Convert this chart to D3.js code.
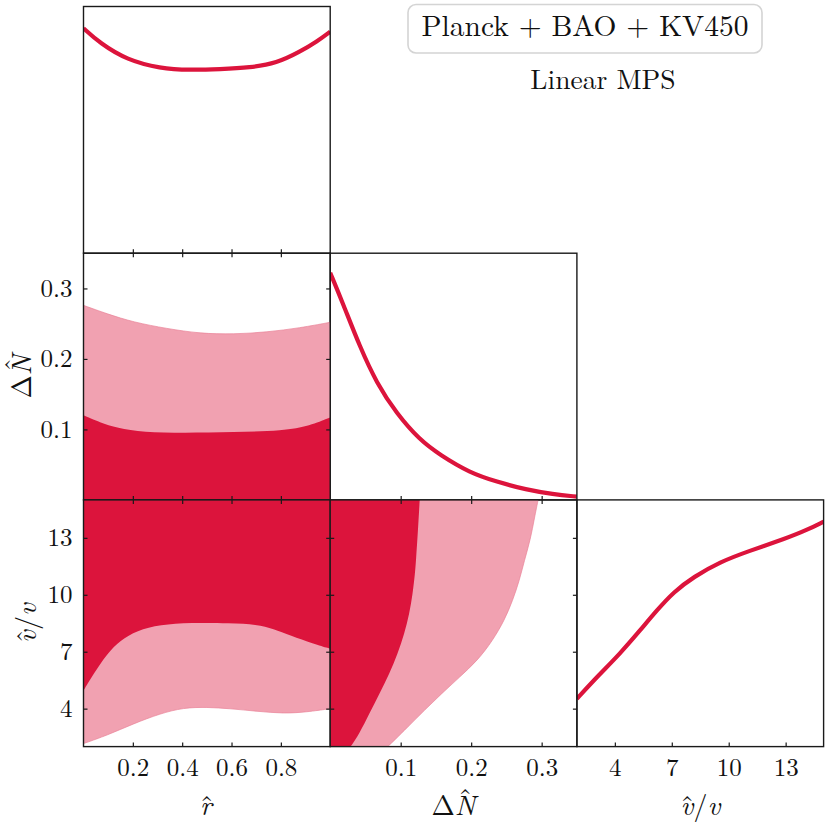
<!DOCTYPE html>
<html>
<head>
<meta charset="utf-8">
<script src="https://cdn.jsdelivr.net/npm/d3@7"></script>
<style>
  body { margin: 0; background: #fff; }
</style>
</head>
<body>
<script>
// 1D marginals (normalised densities)
const rGrid = [0, 0.067, 0.177, 0.31, 0.432, 0.553, 0.675, 0.783, 0.878, 0.945, 1.0]
const rDensity = [0.912, 0.851, 0.783, 0.749, 0.742, 0.746, 0.752, 0.770, 0.817, 0.857, 0.898]

const dnGrid = [0, 0.018, 0.042, 0.066, 0.094, 0.127, 0.156, 0.198, 0.236, 0.278, 0.316, 0.35]
const dnDensity = [0.921, 0.797, 0.621, 0.473, 0.351, 0.243, 0.182, 0.110, 0.074, 0.041, 0.023, 0.013]

const vGrid = [2.0, 3.05, 4.28, 5.34, 6.22, 7.10, 8.15, 9.56, 10.96, 13.07, 14.12, 15.0]
const vDensity = [0.194, 0.282, 0.377, 0.472, 0.553, 0.627, 0.688, 0.749, 0.790, 0.845, 0.878, 0.912]

// 2D contours: r vs dN (upper edges of the 68% / 95% regions)
const rDn68_r = [0, 0.067, 0.135, 0.243, 0.405, 0.608, 0.81, 0.918, 1.0]
const rDn68_dn = [0.120, 0.110, 0.102, 0.096, 0.095, 0.096, 0.098, 0.105, 0.117]
const rDn95_r = [0, 0.095, 0.203, 0.338, 0.473, 0.608, 0.743, 0.878, 1.0]
const rDn95_dn = [0.276, 0.264, 0.252, 0.243, 0.236, 0.235, 0.238, 0.244, 0.252]

// r vs v (lower edges)
const rV68_r = [0, 0.041, 0.095, 0.149, 0.216, 0.311, 0.432, 0.595, 0.703, 0.77, 0.838, 0.932, 1.0]
const rV68_v = [4.96, 5.84, 6.89, 7.59, 8.12, 8.42, 8.53, 8.51, 8.44, 8.21, 7.86, 7.42, 7.16]
const rV95_r = [0, 0.095, 0.203, 0.311, 0.405, 0.5, 0.595, 0.703, 0.811, 0.905, 1.0]
const rV95_v = [2.16, 2.59, 3.21, 3.74, 4.05, 4.08, 4.0, 3.86, 3.74, 3.82, 4.0]

// dN vs v (right edges)
const dnV68_v = [15.0, 13.38, 11.81, 11.11, 10.05, 9.0, 7.95, 6.89, 5.84, 4.79, 3.74, 2.68, 2.0]
const dnV68_dn = [0.127, 0.1245, 0.1217, 0.1203, 0.117, 0.1123, 0.1052, 0.0957, 0.084, 0.0698, 0.0556, 0.0414, 0.029]
const dnV95_v = [15.0, 14.1, 12.9, 11.81, 10.75, 9.70, 8.65, 7.59, 6.54, 5.66, 4.79, 3.91, 3.03, 2.33, 2.0]
const dnV95_dn = [0.295, 0.290, 0.284, 0.2755, 0.2684, 0.2589, 0.2471, 0.2305, 0.2092, 0.1835, 0.158, 0.1336, 0.1099, 0.0911, 0.0816]

const rTicks = [0.2, 0.4, 0.6, 0.8]
const dnTicks = [0.1, 0.2, 0.3]
const vTicks = [4, 7, 10, 13]

const titleText = "Planck + BAO + KV450"
const subText = "Linear MPS"

const dark = "#dc143c", light = "#f1a1b1", edge = "#ea8298"
const lm = "'Latin Modern Roman', 'Liberation Serif', serif"

let W = 831, H = 831
let mLeft = 83.5, mTop = 6.5, P = 246.7

let svg = d3.select("body").append("svg")
  .attr("width", W).attr("height", H)

// parameter scales (x direction / y direction)
let params = [
  {name: "r", dom: [0, 1], ticks: rTicks, fmt: d3.format(".1f")},
  {name: "dn", dom: [0, 0.35], ticks: dnTicks, fmt: d3.format(".1f")},
  {name: "v", dom: [2, 15], ticks: vTicks, fmt: d3.format("d")}
]
params.forEach(p => {
  p.x = d3.scaleLinear().domain(p.dom).range([0, P])
  p.y = d3.scaleLinear().domain(p.dom).range([P, 0])
})
let dens = d3.scaleLinear().domain([0, 1]).range([P, 0])

let tk = 4

function panel(row, col) {
  let g = svg.append("g")
    .attr("transform", "translate(" + (mLeft + col * P) + "," + (mTop + row * P) + ")")
  let id = "clip" + row + col
  g.append("clipPath").attr("id", id).append("rect").attr("width", P).attr("height", P)
  let inner = g.append("g").attr("clip-path", "url(#" + id + ")")
  return {g, inner}
}

function frame(g, row, col, diag) {
  let px = params[col]
  // bottom ticks (labels only on last row)
  let ab = d3.axisBottom(px.x).tickValues(px.ticks).tickSizeInner(-tk).tickSizeOuter(0).tickPadding(12)
    .tickFormat(row == 2 ? px.fmt : "")
  g.append("g").attr("class", "ax").attr("transform", "translate(0," + P + ")").call(ab)
  if (!diag) {
    let py = params[row]
    g.append("g").attr("class", "ax").call(
      d3.axisTop(px.x).tickValues(px.ticks).tickSizeInner(-tk).tickSizeOuter(0).tickFormat(""))
    g.append("g").attr("class", "ax").call(
      d3.axisLeft(py.y).tickValues(py.ticks).tickSizeInner(-tk).tickSizeOuter(0).tickPadding(11)
        .tickFormat(col == 0 ? py.fmt : ""))
    g.append("g").attr("class", "ax").attr("transform", "translate(" + P + ",0)").call(
      d3.axisRight(py.y).tickValues(py.ticks).tickSizeInner(-tk).tickSizeOuter(0).tickFormat(""))
  }
  g.append("rect").attr("width", P).attr("height", P)
    .attr("fill", "none").attr("stroke", "#1a1a1a").attr("stroke-width", 1.4)
}

let curve = d3.curveBasis

// diagonal 1D panels
let diag = [[rGrid, rDensity], [dnGrid, dnDensity], [vGrid, vDensity]]
diag.forEach((d, i) => {
  let p = panel(i, i)
  let pts = d[0].map((x, k) => [x, d[1][k]])
  p.inner.append("path")
    .attr("d", d3.line().x(q => params[i].x(q[0])).y(q => dens(q[1])).curve(curve)(pts))
    .attr("fill", "none").attr("stroke", dark).attr("stroke-width", 4.2)
  frame(p.g, i, i, true)
})

// r vs dN
{
  let p = panel(1, 0)
  let sx = params[0].x, sy = params[1].y
  let a95 = rDn95_r.map((x, k) => [x, rDn95_dn[k]])
  let a68 = rDn68_r.map((x, k) => [x, rDn68_dn[k]])
  p.inner.append("path").attr("d", d3.area().x(q => sx(q[0])).y0(P).y1(q => sy(q[1])).curve(curve)(a95))
    .attr("fill", light).attr("stroke", edge).attr("stroke-width", 0.7)
  p.inner.append("path").attr("d", d3.area().x(q => sx(q[0])).y0(P + 2).y1(q => sy(q[1])).curve(curve)(a68))
    .attr("fill", dark)
  frame(p.g, 1, 0, false)
}

// r vs v
{
  let p = panel(2, 0)
  let sx = params[0].x, sy = params[2].y
  let a95 = rV95_r.map((x, k) => [x, rV95_v[k]])
  let a68 = rV68_r.map((x, k) => [x, rV68_v[k]])
  p.inner.append("path").attr("d", d3.area().x(q => sx(q[0])).y0(-2).y1(q => sy(q[1])).curve(curve)(a95))
    .attr("fill", light).attr("stroke", edge).attr("stroke-width", 0.7)
  p.inner.append("path").attr("d", d3.area().x(q => sx(q[0])).y0(-2).y1(q => sy(q[1])).curve(curve)(a68))
    .attr("fill", dark)
  frame(p.g, 2, 0, false)
}

// dN vs v
{
  let p = panel(2, 1)
  let sx = params[1].x, sy = params[2].y
  let a95 = dnV95_v.map((v, k) => [dnV95_dn[k], v])
  let a68 = dnV68_v.map((v, k) => [dnV68_dn[k], v])
  p.inner.append("path").attr("d", d3.area().y(q => sy(q[1])).x0(-2).x1(q => sx(q[0])).curve(curve)(a95))
    .attr("fill", light).attr("stroke", edge).attr("stroke-width", 0.7)
  p.inner.append("path").attr("d", d3.area().y(q => sy(q[1])).x0(-2).x1(q => sx(q[0])).curve(curve)(a68))
    .attr("fill", dark)
  frame(p.g, 2, 1, false)
}

svg.selectAll(".ax .domain").remove()
svg.selectAll(".ax line").attr("stroke", "#1a1a1a").attr("stroke-width", 1.2)
svg.selectAll(".ax text").attr("font-size", 25).attr("fill", "#111")

// axis labels, hats drawn as separate accent glyphs
let lab = svg.append("g").attr("font-size", 28).attr("text-anchor", "middle").attr("fill", "#111")

function rHat(t) {
  t.append("tspan").attr("font-style", "italic").text("r")
  t.append("tspan").attr("dx", "-0.43em").text("\u02c6")
}
function dnHat(t) {
  t.append("tspan").text("\u0394")
  t.append("tspan").attr("font-style", "italic").text("N")
  t.append("tspan").attr("dx", "-0.62em").attr("dy", "-0.25em").text("\u02c6")
}
function vHat(t) {
  t.append("tspan").attr("font-style", "italic").text("v")
  t.append("tspan").attr("dx", "-0.47em").text("\u02c6")
  t.append("tspan").attr("dx", "-0.03em").text("/")
  t.append("tspan").attr("font-style", "italic").text("v")
}

lab.append("text").attr("x", mLeft + P / 2).attr("y", 815).call(rHat)
lab.append("text").attr("x", mLeft + 1.5 * P).attr("y", 815).call(dnHat)
lab.append("text").attr("x", mLeft + 2.5 * P).attr("y", 815).call(vHat)
lab.append("text").attr("transform", "translate(31," + (mTop + 1.5 * P) + ") rotate(-90)").call(dnHat)
lab.append("text").attr("transform", "translate(36," + (mTop + 2.5 * P) + ") rotate(-90)").call(vHat)

// title box
let tb = svg.append("g").attr("fill", "#111")
tb.append("rect").attr("x", 408).attr("y", 4.5).attr("width", 354).attr("height", 48.5)
  .attr("rx", 8).attr("fill", "#fff").attr("stroke", "#d4d4d4").attr("stroke-width", 1.6)
tb.append("text").attr("x", 585).attr("y", 35.5).attr("text-anchor", "middle")
  .attr("font-size", 29.5).text(titleText)
tb.append("text").attr("x", 603).attr("y", 89).attr("text-anchor", "middle")
  .attr("font-size", 27.5).text(subText)

svg.selectAll("text").style("font-family", lm)
</script>
</body>
</html>
